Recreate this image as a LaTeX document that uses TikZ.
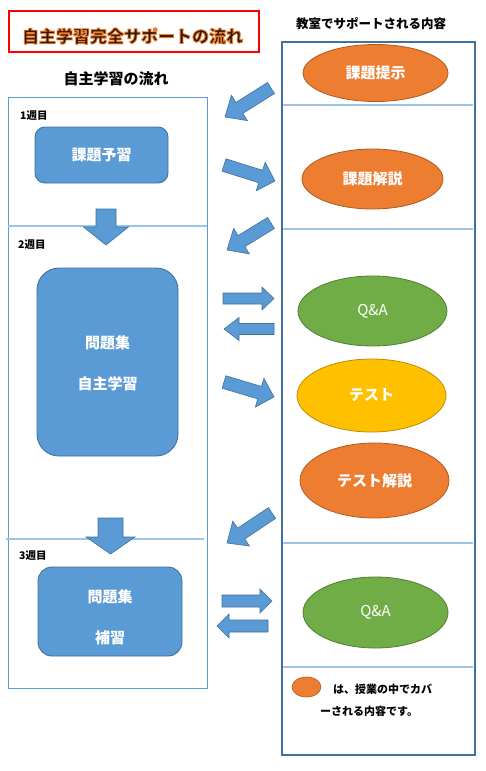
\documentclass[tikz,border=0pt]{standalone}
\usepackage{fontspec}
\setmainfont{Noto Sans CJK JP}
\usetikzlibrary{calc,shapes.geometric}
\definecolor{bfill}{HTML}{5B9BD5}
\definecolor{bline}{HTML}{41719C}
\definecolor{ofill}{HTML}{ED7D31}
\definecolor{oline}{HTML}{AE5A21}
\definecolor{gfill}{HTML}{70AD47}
\definecolor{gline}{HTML}{507E32}
\definecolor{yfill}{HTML}{FFC000}
\definecolor{yline}{HTML}{BC8C00}
\definecolor{divc}{HTML}{9DC3E6}
\definecolor{tdark}{HTML}{2E1A08}
\tikzset{
  every node/.style={inner sep=0pt},
  box/.style={draw=bline, fill=bfill, line width=0.9pt},
  boxtxt/.style={text=white, font=\bfseries\fontsize{15}{18}\selectfont},
  ellbase/.style={ellipse, line width=0.8pt, text=white, font=\bfseries\fontsize{15}{18}\selectfont},
  oell/.style={ellbase, draw=oline, fill=ofill},
  gell/.style={ellbase, draw=gline, fill=gfill},
  yell/.style={ellbase, draw=yline, fill=yfill},
  barrow/.style={draw=bline, fill=bfill, line width=0.6pt, line join=miter},
  divline/.style={draw=divc, line width=1.2pt},
  weeklbl/.style={anchor=west, font=\bfseries\fontsize{10.5}{12}\selectfont},
  headlbl/.style={font=\bfseries\fontsize{15}{18}\selectfont},
  legtxt/.style={anchor=west, font=\bfseries\fontsize{11}{13}\selectfont},
  titlefont/.style={font=\bfseries\fontsize{17}{20}\selectfont},
}
\newcommand\blockarrow[6]{%
  \coordinate (#1b) at ($(#3)!#6!(#2)$);
  \draw[barrow] ($(#2)!#4!90:(#3)$) -- ($(#1b)!#4!90:(#3)$) -- ($(#1b)!#5!90:(#3)$) -- (#3)
     -- ($(#1b)!#5!-90:(#3)$) -- ($(#1b)!#4!-90:(#3)$) -- ($(#2)!#4!-90:(#3)$) -- cycle;
}
\newcommand\glowtext[1]{\special{pdf:code 2 Tr 0.9 w 1 J 1 j 0.929 0.490 0.192 RG}#1\special{pdf:code 0 Tr}}
\begin{document}
\begin{tikzpicture}[x=1pt,y=-1pt]
\useasboundingbox[fill=white] (0,0) rectangle (485,771);

% title
\node[draw=red, line width=1.2pt, minimum width=250pt, minimum height=41pt] (title) at (134,31.5) {};
\node[text=tdark, titlefont] (titletext) at (132.5,36) {\glowtext{自主学習完全サポートの流れ}};

% headings
\node[font=\bfseries\fontsize{12.5}{15}\selectfont] (rhead) at (371,23.5) {教室でサポートされる内容};
\node[headlbl] (lhead) at (116,79) {自主学習の流れ};

% left panel
\draw[draw=bfill, line width=0.8pt] (8,97) rectangle (207,688);
\draw[divline] (8,226) -- (207,226);
\draw[divline] (6,539) -- (204,539);

% right panel
\draw[draw=bline, line width=1.3pt] (282,42) rectangle (475,755);
\draw[divline] (283,105) -- (473,105);
\draw[divline] (283,229) -- (473,229);
\draw[divline] (283,543) -- (473,543);
\draw[divline] (283,667) -- (473,667);

% week labels
\node[weeklbl] (w1) at (20,116) {1週目};
\node[weeklbl] (w2) at (18,245) {2週目};
\node[weeklbl] (w3) at (19,556) {3週目};

% left boxes
\draw[box, rounded corners=10pt] (35,127) rectangle (168,183);
\node[boxtxt] (b1) at (101.5,155) {課題予習};
\draw[box, rounded corners=22pt] (37,268) rectangle (178,456);
\node[boxtxt] (b2a) at (107.5,343) {問題集};
\node[boxtxt] (b2b) at (107.5,384) {自主学習};
\draw[box, rounded corners=14pt] (38,567) rectangle (182,656);
\node[boxtxt] (b3a) at (110,597) {問題集};
\node[boxtxt] (b3b) at (110,638) {補習};

% right ellipses
\node[oell, minimum width=145pt, minimum height=57pt] (e1) at (375.5,73) {課題提示};
\node[oell, minimum width=141pt, minimum height=60pt] (e2) at (372.5,179) {課題解説};
\node[gell, minimum width=149pt, minimum height=70pt, font=\fontsize{15}{18}\selectfont] (e3) at (372.5,311) {Q\&A};
\node[yell, minimum width=149pt, minimum height=73pt] (e4) at (371.5,395.5) {テスト};
\node[oell, minimum width=149pt, minimum height=75pt] (e5) at (374.5,480.5) {テスト解説};
\node[gell, minimum width=145pt, minimum height=71pt, font=\fontsize{15}{18}\selectfont] (e6) at (375.5,612.5) {Q\&A};

% legend
\node[ellipse, draw=oline, fill=ofill, line width=0.6pt, minimum width=29pt, minimum height=20pt] (leg) at (306.5,687) {};
\node[legtxt] (legt1) at (333,689) {は、授業の中でカバ};
\node[legtxt] (legt2) at (320,711) {ーされる内容です。};

% down arrows
\coordinate (d1t) at (106,209); \coordinate (d1p) at (106,245);
\blockarrow{d1}{d1t}{d1p}{10pt}{22.5pt}{18pt}
\coordinate (d2t) at (110.5,518); \coordinate (d2p) at (110.5,554);
\blockarrow{d2}{d2t}{d2p}{12.5pt}{24.5pt}{17pt}

% diagonal arrows
\coordinate (a1t) at (271,88); \coordinate (a1p) at (225,117);
\blockarrow{a1}{a1t}{a1p}{6.5pt}{15pt}{17pt}
\coordinate (a2t) at (224,165); \coordinate (a2p) at (275,181);
\blockarrow{a2}{a2t}{a2p}{6.5pt}{15pt}{15pt}
\coordinate (a3t) at (271,223); \coordinate (a3p) at (227,250);
\blockarrow{a3}{a3t}{a3p}{6.5pt}{15pt}{17pt}
\coordinate (a6t) at (224,382); \coordinate (a6p) at (274,397);
\blockarrow{a6}{a6t}{a6p}{6.5pt}{15pt}{15pt}
\coordinate (a7t) at (272,513); \coordinate (a7p) at (227,543);
\blockarrow{a7}{a7t}{a7p}{6.5pt}{15pt}{17pt}

% horizontal arrows
\coordinate (a4t) at (223,298.5); \coordinate (a4p) at (274,298.5);
\blockarrow{a4}{a4t}{a4p}{5.5pt}{11.5pt}{12pt}
\coordinate (a5t) at (274,329); \coordinate (a5p) at (224,329);
\blockarrow{a5}{a5t}{a5p}{5.5pt}{11.5pt}{15pt}
\coordinate (a8t) at (222,601); \coordinate (a8p) at (272,601);
\blockarrow{a8}{a8t}{a8p}{6pt}{12pt}{12pt}
\coordinate (a9t) at (268,626); \coordinate (a9p) at (217,626);
\blockarrow{a9}{a9t}{a9p}{6pt}{12pt}{12pt}
\end{tikzpicture}
\end{document}
